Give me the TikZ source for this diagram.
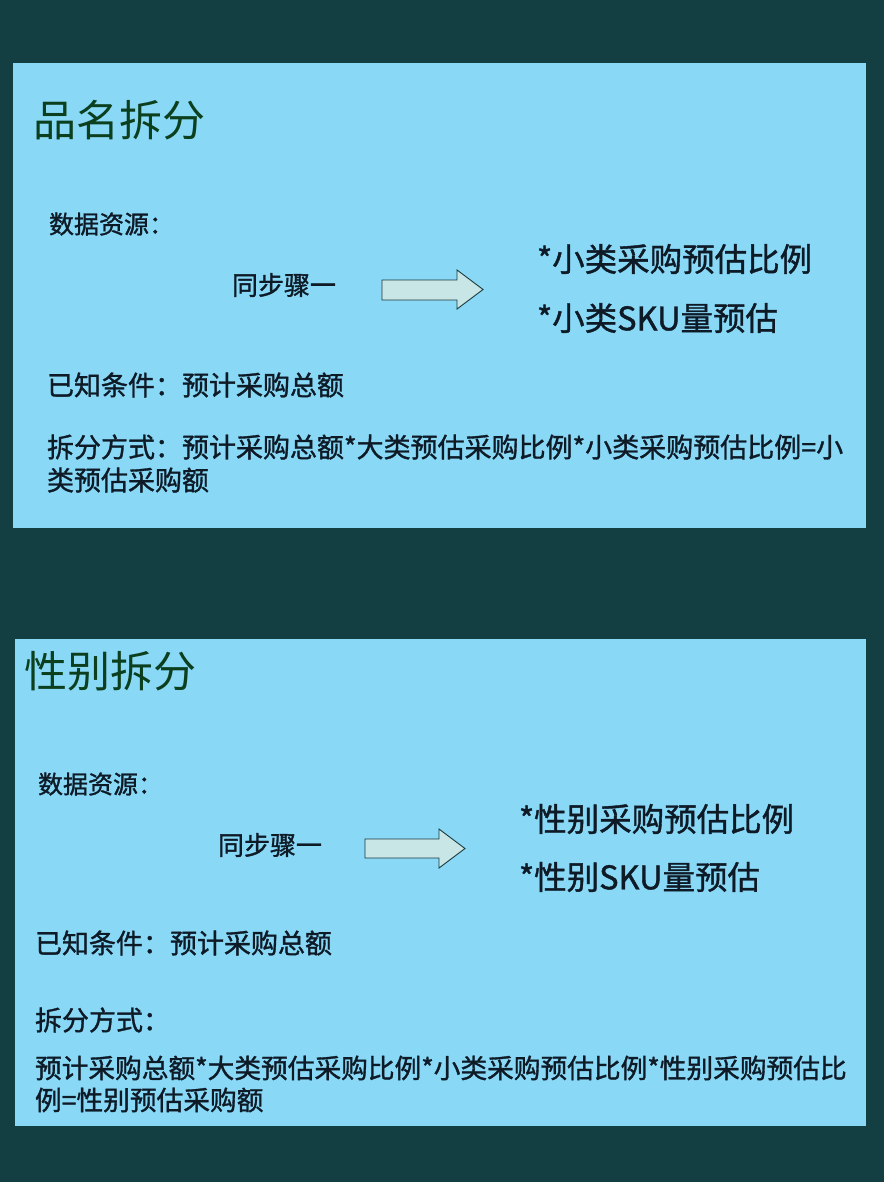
\documentclass[tikz,border=0pt]{standalone}
\usepackage{fontspec}
\setmainfont{Noto Sans CJK SC}
\newfontfamily\bodyfont{Noto Sans CJK SC}[FakeBold=1.2]
\usepackage{tikz}
\usetikzlibrary{positioning}
\definecolor{bgteal}{HTML}{133E42}
\definecolor{panelblue}{HTML}{88D8F6}
\definecolor{titlegreen}{HTML}{0B3F1E}
\definecolor{inkdark}{HTML}{0E1A26}
\definecolor{arrowfill}{HTML}{C8E6E6}
\definecolor{arrowline}{HTML}{1C3A3C}
\tikzset{
	panel/.style={fill=panelblue, draw=none},
	blockarrow/.style={fill=arrowfill, draw=arrowline, line width=0.9pt, line join=miter}
}

\begin{document}
\begin{tikzpicture}[x=1pt, y=-1pt,
		every node/.style={inner sep=0pt, outer sep=0pt, anchor=west, text=inkdark},
		title/.style={font=\fontsize{43}{44}\selectfont, text=titlegreen},
		small/.style={font=\bodyfont\fontsize{25}{28}\selectfont},
		plain/.style={font=\bodyfont\fontsize{27}{33}\selectfont, align=left},
		result/.style={font=\bodyfont\fontsize{32.5}{36}\selectfont}]
		%% Background
		\fill [bgteal] (0,0) rectangle (884,1182);
		\useasboundingbox (0,0) rectangle (884,1182);
		%% Panels
		\fill [panel] (13,63) rectangle (866,528);
		\fill [panel] (15,639) rectangle (866,1126);
		%% Panel 1
		\node [title] at (33,120) (T1) {品名拆分};
		\node [small] at (49,224) (Src1) {数据资源：};
		\node [plain, font=\bodyfont\fontsize{26}{33}\selectfont] at (232,285) (Step1) {同步骤一};
		\draw [blockarrow] (382,280) -- (457,280) -- (457,270) -- (483,289.5)
			-- (457,309) -- (457,300) -- (382,300) -- cycle;
		\node [result] at (537,259) (R1a) {*小类采购预估比例};
		\node [result] at (537,318) (R1b) {*小类SKU量预估};
		\node [plain] at (47,385) (K1) {已知条件：预计采购总额};
		\node [plain] at (47,463.5) (M1) {拆分方式：预计采购总额*大类预估采购比例*小类采购预估比例=小\\类预估采购额};
		%% Panel 2
		\node [title] at (24,671) (T2) {性别拆分};
		\node [small] at (38,784) (Src2) {数据资源：};
		\node [plain, font=\bodyfont\fontsize{26}{33}\selectfont] at (218,845) (Step2) {同步骤一};
		\draw [blockarrow] (365,839) -- (439,839) -- (439,829) -- (465,848.5)
			-- (439,868) -- (439,858) -- (365,858) -- cycle;
		\node [result] at (519,819) (R2a) {*性别采购预估比例};
		\node [result] at (519,877) (R2b) {*性别SKU量预估};
		\node [plain] at (35,943) (K2) {已知条件：预计采购总额};
		\node [plain] at (35,1020) (M2) {拆分方式：};
		\node [plain, font=\bodyfont\fontsize{26.7}{32}\selectfont] at (35,1084) (F2) {预计采购总额*大类预估采购比例*小类采购预估比例*性别采购预估比\\例=性别预估采购额};
	\end{tikzpicture}
\end{document}
